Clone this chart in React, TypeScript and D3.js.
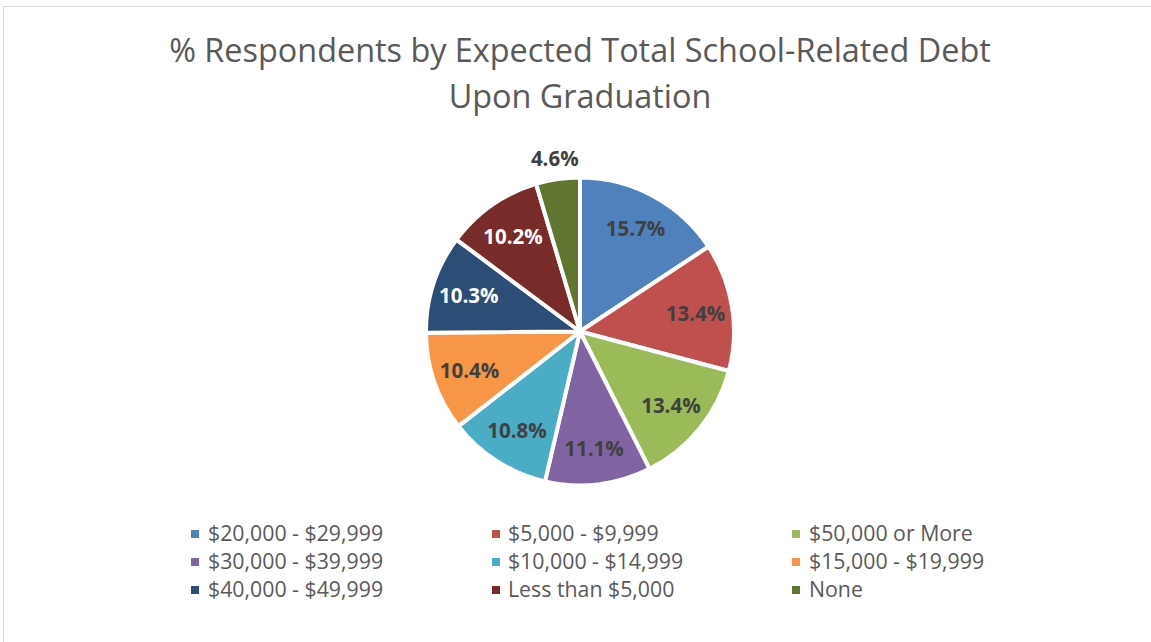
import React from "react";
import * as d3 from "d3";

const categories = [
  "$20,000 - $29,999",
  "$5,000 - $9,999",
  "$50,000 or More",
  "$30,000 - $39,999",
  "$10,000 - $14,999",
  "$15,000 - $19,999",
  "$40,000 - $49,999",
  "Less than $5,000",
  "None",
];
const values = [15.7, 13.4, 13.4, 11.1, 10.8, 10.4, 10.3, 10.2, 4.6];
const colors = ["#4F81BD", "#C0504D", "#9BBB59", "#8064A2", "#4BACC6", "#F79646", "#2C4D75", "#772C2A", "#5F7530"];
const labelColors = ["#404040", "#404040", "#404040", "#404040", "#404040", "#404040", "#FFFFFF", "#FFFFFF", "#404040"];
const titleLines = ["% Respondents by Expected Total School-Related Debt", "Upon Graduation"];

const W = 1151, H = 642;
const cx = 580, cy = 331.5, R = 154;

export default function App() {
  const pie = d3.pie<number>().sort(null).value((d) => d);
  const arcs = pie(values);
  const arc = d3.arc<d3.PieArcDatum<number>>().innerRadius(0).outerRadius(R);
  const font = "'Open Sans', 'Liberation Sans', sans-serif";

  const colX = [191, 492, 792];
  const textX = [208, 508, 809];
  const rowY = [533, 561, 589];

  return (
    <svg width={W} height={H} style={{ position: "absolute", left: 0, top: 0 }}>
      <rect x={0} y={0} width={W} height={H} fill="#fff" />
      <rect x={3.5} y={6.5} width={1200} height={700} fill="#fff" stroke="#d9d9d9" strokeWidth={1} />
      {titleLines.map((t, i) => (
        <text key={i} x={cx} y={62 + i * 46} textAnchor="middle" fontFamily={font} fontSize={32.4} fill="#595959">
          {t}
        </text>
      ))}
      <g transform={`translate(${cx},${cy})`}>
        {arcs.map((a, i) => (
          <path key={i} d={arc(a) || ""} fill={colors[i]} stroke="#fff" strokeWidth={4} strokeLinejoin="round" />
        ))}
        {arcs.map((a, i) => {
          const mid = (a.startAngle + a.endAngle) / 2;
          const r = i === 8 ? 175 : 117;
          const x = Math.sin(mid) * r;
          const y = -Math.cos(mid) * r;
          return (
            <text key={i} x={x} y={y} textAnchor="middle" dominantBaseline="central" fontFamily={font} fontWeight="bold" fontSize={20.5} fill={labelColors[i]}>
              {a.value.toFixed(1)}%
            </text>
          );
        })}
      </g>
      {categories.map((c, i) => {
        const col = i % 3, row = Math.floor(i / 3);
        const y = rowY[row];
        return (
          <g key={i}>
            <rect x={colX[col]} y={y - 3} width={8} height={8} fill={colors[i]} />
            <text x={textX[col]} y={y + 8} fontFamily={font} fontSize={21.3} fill="#595959">
              {c}
            </text>
          </g>
        );
      })}
    </svg>
  );
}
